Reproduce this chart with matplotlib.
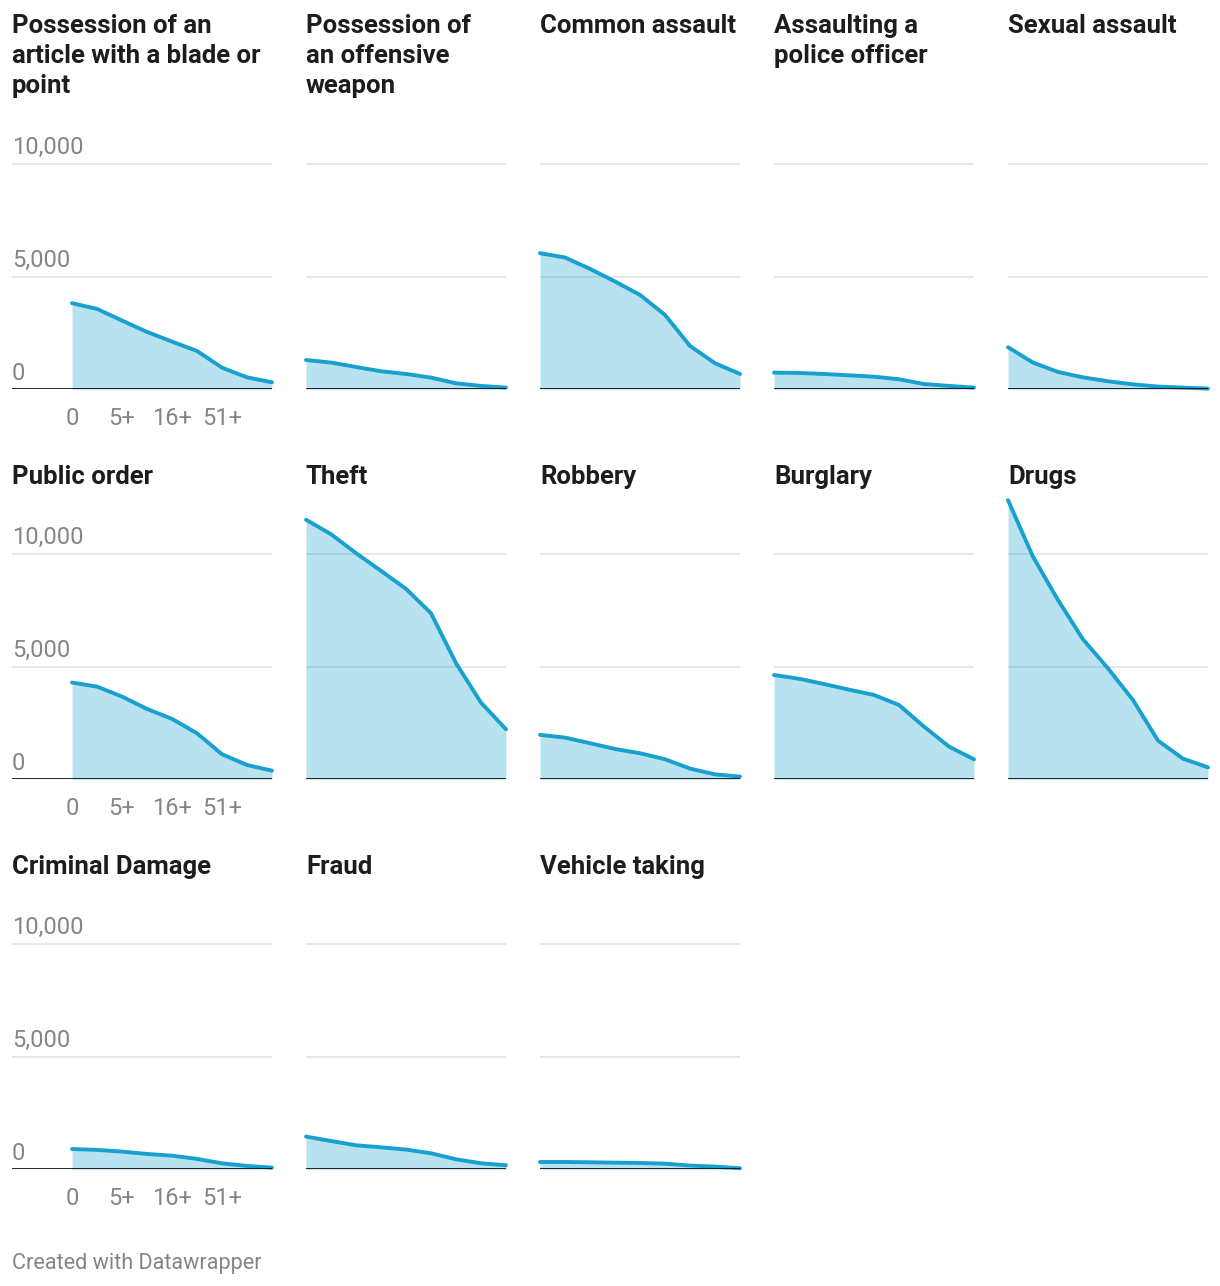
import numpy as np
import matplotlib
matplotlib.use("Agg")
import matplotlib.pyplot as plt

plt.rcParams["font.family"] = ["Roboto", "DejaVu Sans"]

# x categories (only every other band is labelled in the original)
x_labels = ["0", "", "5+", "", "16+", "", "51+", "", ""]

titles = [
    "Possession of an\narticle with a blade or\npoint",
    "Possession of\nan offensive\nweapon",
    "Common assault",
    "Assaulting a\npolice officer",
    "Sexual assault",
    "Public order",
    "Theft",
    "Robbery",
    "Burglary",
    "Drugs",
    "Criminal Damage",
    "Fraud",
    "Vehicle taking",
]

blade_point = [3820, 3565, 3050, 2545, 2115, 1700, 960, 530, 310]
offensive_weapon = [1300, 1185, 990, 800, 680, 520, 265, 150, 75]
common_assault = [6035, 5845, 5340, 4780, 4185, 3300, 1925, 1155, 680]
assault_police = [740, 725, 680, 620, 560, 445, 235, 150, 75]
sexual_assault = [1865, 1185, 770, 530, 355, 220, 120, 75, 30]
public_order = [4290, 4110, 3670, 3120, 2680, 2040, 1110, 635, 385]
theft = [11510, 10870, 10030, 9245, 8445, 7365, 5150, 3400, 2220]
robbery = [1970, 1850, 1600, 1345, 1155, 890, 475, 220, 120]
burglary = [4625, 4460, 4225, 3975, 3740, 3295, 2335, 1450, 885]
drugs = [12380, 9870, 7950, 6205, 4920, 3515, 1715, 915, 530]
criminal_damage = [900, 860, 785, 680, 605, 460, 265, 150, 75]
fraud = [1450, 1255, 1065, 975, 875, 710, 445, 265, 180]
vehicle_taking = [325, 325, 310, 295, 280, 250, 165, 120, 45]

series = [blade_point, offensive_weapon, common_assault, assault_police,
          sexual_assault, public_order, theft, robbery, burglary, drugs,
          criminal_damage, fraud, vehicle_taking]

y_ticks = [0, 5000, 10000]

LINE = "#18a0cf"
GRID = "#e5e5e5"
GRAY = "#858585"
DARK = "#1d1d1d"

W, H = 1220, 1286
fig = plt.figure(figsize=(W / 100, H / 100), dpi=100)

ncols = 5
col_step = 234
data_left0 = 72
data_w = 200
baselines = [389.3, 779.3, 1169.3]
title_tops = [14, 465, 855]
px_per_unit = 22.55 / 1000
ymax = 12600
ax_h = ymax * px_per_unit
n = len(x_labels)
x = np.arange(n)

for i, (title, vals) in enumerate(zip(titles, series)):
    row, col = divmod(i, ncols)
    data_left = data_left0 + col * col_step
    base = baselines[row]
    if col == 0:
        left = 12
        step = data_w / (n - 1)
        xmin = -(data_left - left) / step
    else:
        left = data_left
        xmin = 0
    width = data_left + data_w - left
    ax = fig.add_axes([left / W, (H - base) / H, width / W, ax_h / H])
    ax.set_xlim(xmin, n - 1)
    ax.set_ylim(0, ymax)
    for s in ax.spines.values():
        s.set_visible(False)
    ax.patch.set_alpha(0)

    for t in y_ticks[1:]:
        ax.axhline(t, color=GRID, lw=1.3, zorder=1)
    ax.axhline(0, color="#111111", lw=2.0, zorder=4)

    ax.fill_between(x, vals, 0, color=LINE, alpha=0.3, lw=0, zorder=2)
    ax.plot(x, vals, color=LINE, lw=2.8, solid_capstyle="round",
            solid_joinstyle="round", zorder=3, clip_on=False)

    ax.set_yticks([])
    if col == 0:
        for t in y_ticks:
            ax.annotate(f"{t:,}", xy=(0, t), xycoords=("axes fraction", "data"),
                        xytext=(0, 7), textcoords="offset points",
                        ha="left", va="baseline", fontsize=17, color=GRAY)
        ticks = [k for k, lab in enumerate(x_labels) if lab]
        ax.set_xticks(ticks)
        ax.set_xticklabels([x_labels[k] for k in ticks], fontsize=17, color=GRAY)
        ax.tick_params(axis="x", length=0, pad=13)
    else:
        ax.set_xticks([])

    fig.text(left / W, 1 - title_tops[row] / H, title,
             ha="left", va="top", fontsize=18.5, fontweight="bold", color=DARK,
             linespacing=1.31)

fig.text(12 / W, 1 - 1264 / H, "Created with Datawrapper", ha="left", va="center",
         fontsize=15.6, color=GRAY)

fig.savefig("out.png", dpi=100)
